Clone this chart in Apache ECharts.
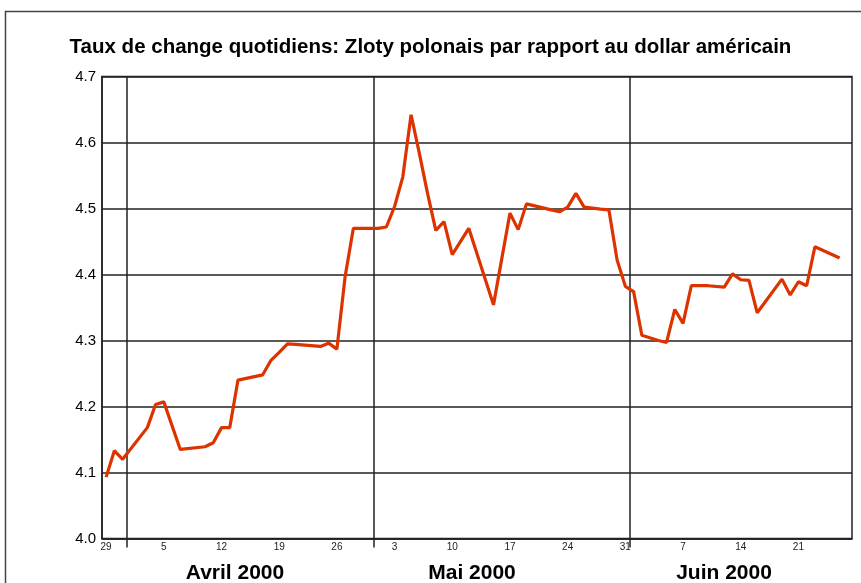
<!DOCTYPE html>
<html>
<head>
<meta charset="utf-8">
<script src="https://cdn.jsdelivr.net/npm/echarts@6/dist/echarts.min.js"></script>
<style>
  html, body { margin: 0; padding: 0; background: #fff; }
  #chart { width: 861px; height: 583px; }
</style>
</head>
<body>
<div id="chart"></div>
<script>
// days counted from 29 March 2000
const days = [0, 1, 2, 5, 6, 7, 9, 12, 13, 14, 15, 16, 19, 20, 21, 22, 23, 26, 27, 28, 29, 30,
  33, 34, 35, 36, 37, 38, 39, 40, 41, 42, 44, 47, 49, 50, 51, 52, 54, 55, 56, 57, 58, 60, 61,
  62, 63, 64, 65, 67, 68, 69, 70, 71, 73, 75, 76, 77, 78, 79, 82, 83, 84, 85, 86, 89];
const rates = [4.093, 4.133, 4.120, 4.168, 4.203, 4.207, 4.135, 4.139, 4.145, 4.168, 4.168, 4.240, 4.248, 4.270, 4.282, 4.295, 4.294, 4.291, 4.296, 4.287, 4.397, 4.470,
  4.470, 4.472, 4.503, 4.548, 4.642, 4.584, 4.523, 4.467, 4.480, 4.430, 4.470, 4.354, 4.493, 4.468, 4.507, 4.504, 4.498, 4.495, 4.502, 4.523, 4.502, 4.499, 4.498,
  4.422, 4.382, 4.374, 4.308, 4.300, 4.297, 4.347, 4.326, 4.383, 4.383, 4.381, 4.401, 4.392, 4.391, 4.342, 4.393, 4.369, 4.389, 4.383, 4.442, 4.425];
const weekTicks = [0, 7, 14, 21, 28, 35, 42, 49, 56, 63, 70, 77, 84];
const monthBreaks = [2.5, 32.5, 63.5];
const monthNames = ['Avril 2000', 'Mai 2000', 'Juin 2000'];
const monthLabelX = [235, 472, 724];

function dayOfMonth(v) {
  return String(new Date(2000, 2, 29 + Math.round(v)).getDate());
}

const chart = echarts.init(document.getElementById('chart'));

const option = {
  animation: false,
  backgroundColor: '#fff',
  title: {
    text: 'Taux de change quotidiens: Zloty polonais par rapport au dollar américain',
    left: 'center',
    top: 32,
    textStyle: { fontFamily: 'Liberation Sans', fontSize: 20.5, fontWeight: 'bold', color: '#000' }
  },
  grid: {
    left: 102, right: 9, top: 76.5, bottom: 44.5,
    show: true, borderColor: '#222', borderWidth: 1.5
  },
  graphic: [
    {
      type: 'rect', silent: true,
      shape: { x: 5.5, y: 11.5, width: 900, height: 620 },
      style: { fill: 'none', stroke: '#444', lineWidth: 1.5 }
    }
  ].concat(monthNames.map((name, i) => ({
    type: 'text',
    x: monthLabelX[i], y: 563,
    style: {
      text: name, textAlign: 'center', textVerticalAlign: 'top',
      fontFamily: 'Liberation Sans', fontSize: 21, fontWeight: 'bold', fill: '#000'
    }
  }))),
  xAxis: {
    type: 'value',
    min: -0.5,
    max: 90.5,
    axisLine: { show: true, onZero: false, lineStyle: { color: '#222', width: 1.5 } },
    splitLine: { show: false },
    axisTick: {
      show: true, inside: false, length: 9,
      customValues: monthBreaks,
      lineStyle: { color: '#222', width: 1.5 }
    },
    axisLabel: {
      customValues: weekTicks,
      formatter: dayOfMonth,
      fontFamily: 'Liberation Sans', fontSize: 10, color: '#222', margin: 4
    }
  },
  yAxis: {
    type: 'value',
    min: 4.0,
    max: 4.7,
    interval: 0.1,
    axisLine: { show: true, onZero: false, lineStyle: { color: '#222', width: 1.5 } },
    axisTick: { show: false },
    splitLine: { show: true, lineStyle: { color: '#222', width: 1.5 } },
    axisLabel: {
      formatter: v => v.toFixed(1),
      fontFamily: 'Liberation Sans', fontSize: 15, color: '#000', margin: 6
    }
  },
  series: [{
    type: 'line',
    data: days.map((d, i) => [d, rates[i]]),
    showSymbol: false,
    lineStyle: { color: '#dd3300', width: 3.2 },
    markLine: {
      silent: true,
      symbol: 'none',
      label: { show: false },
      lineStyle: { color: '#222', width: 1.5, type: 'solid' },
      data: monthBreaks.map(b => ({ xAxis: b }))
    },
    z: 5
  }]
};

chart.setOption(option);
</script>
</body>
</html>
